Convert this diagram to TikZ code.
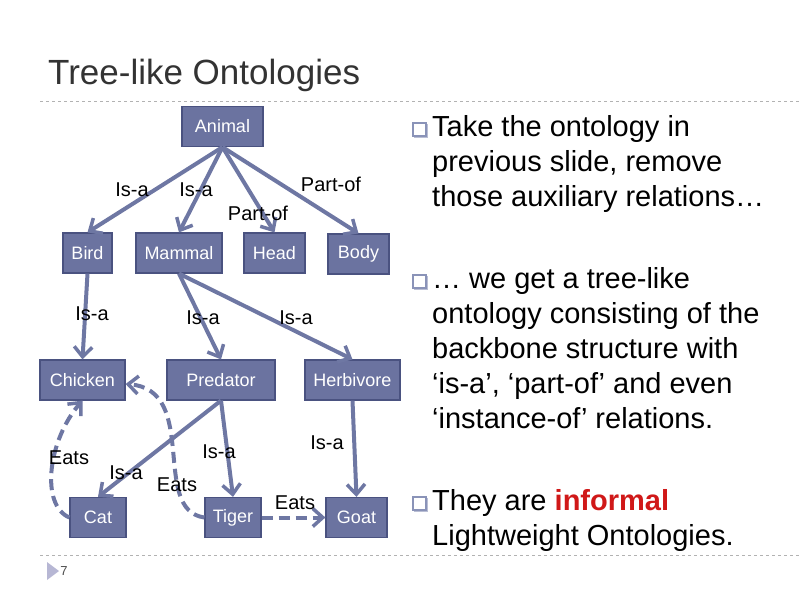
\documentclass[tikz,border=0pt]{standalone}
\usepackage{fontspec}
\setmainfont{Liberation Sans}
\usetikzlibrary{arrows.meta,calc}
\definecolor{nodefill}{HTML}{6B73A0}
\definecolor{nodeedge}{HTML}{4A5280}
\definecolor{edgecol}{HTML}{6E77A3}
\definecolor{bulletcol}{HTML}{8A93B8}
\definecolor{redtxt}{HTML}{D01818}
\tikzset{
  box/.style={draw=nodeedge,line width=1.2pt,fill=nodefill,text=white,font=\fontsize{18}{18}\selectfont,minimum height=40pt,inner sep=0pt},
  rel/.style={draw=edgecol,line width=4pt,-{Straight Barb[length=10pt,width=18pt,line width=3.5pt]}},
  eats/.style={rel,dash pattern=on 11pt off 6pt},
  lbl/.style={font=\fontsize{20}{20}\selectfont,inner sep=0pt},
  txt/.style={font=\fontsize{29}{35}\selectfont,anchor=north west,align=left,inner sep=0pt},
  sep/.style={draw=gray!60,dashed,line width=0.8pt}
}
\newcommand{\qbul}[1]{\draw[bulletcol!60,line width=1pt,fill=bulletcol!40] ($#1+(1.5,1.5)$) rectangle ++(13,13);\draw[bulletcol,line width=1.2pt,fill=white] #1 rectangle ++(13,13);}
\begin{document}
\begin{tikzpicture}[x=1pt,y=-1pt]
\useasboundingbox (0,0) rectangle (800,600);
\node[anchor=west,font=\fontsize{35}{35}\selectfont,text=black!80,inner sep=0pt] (title) at (48,75) {Tree-like Ontologies};
\coordinate (s1) at (40,101); \coordinate (s2) at (800,101);
\draw[sep] (s1) -- (s2);
\coordinate (s3) at (40,555); \coordinate (s4) at (800,555);
\draw[sep] (s3) -- (s4);
\fill[blue!25!gray!45] (47,562) -- (59,571) -- (47,580) -- cycle;
\node[font=\fontsize{13}{13}\selectfont,text=black!70] (pg) at (64,571) {7};

\node[box,minimum width=81pt] (animal) at (222.5,126.5) {Animal};
\node[box,minimum width=49pt] (bird) at (87.5,253) {Bird};
\node[box,minimum width=86pt] (mammal) at (179,253) {Mammal};
\node[box,minimum width=61pt] (head) at (274.5,253) {Head};
\node[box,minimum width=61pt] (body) at (358.5,254) {Body};
\node[box,minimum width=85pt] (chicken) at (82.5,380) {Chicken};
\node[box,minimum width=108pt] (predator) at (221,380) {Predator};
\node[box,minimum width=95pt] (herbivore) at (352.5,380) {Herbivore};
\node[box,minimum width=56pt] (cat) at (98,517.5) {Cat};
\node[box,minimum width=56pt] (tiger) at (233,517.5) {Tiger};
\node[box,minimum width=61pt] (goat) at (356.5,517.5) {Goat};

\draw[rel] (animal.south) -- (bird.north);
\draw[rel] (animal.south) -- (mammal.north);
\draw[rel] (animal.south) -- (head.north);
\draw[rel] (animal.south) -- (body.north);
\draw[rel] (bird.south) -- (chicken.north);
\draw[rel] (mammal.south) -- (predator.north);
\draw[rel] (mammal.south) -- (herbivore.north);
\draw[rel] (predator.south) -- (cat.north);
\draw[rel] (predator.south) -- (tiger.north);
\draw[rel] (herbivore.south) -- (goat.north);
\draw[eats] (cat.west) .. controls (40,505) and (48,440) .. (chicken.south);
\draw[eats] (tiger.west) .. controls (150,510) and (200,390) .. ([yshift=-4pt]chicken.east);
\draw[eats] (tiger.east) -- (goat.west);

\node[lbl] (l1) at (132,190) {Is-a};
\node[lbl] (l2) at (196,190) {Is-a};
\node[lbl] (l3) at (258,213) {Part-of};
\node[lbl] (l4) at (331,184) {Part-of};
\node[lbl] (l5) at (92,314) {Is-a};
\node[lbl] (l6) at (203,318) {Is-a};
\node[lbl] (l7) at (296,318) {Is-a};
\node[lbl] (l8) at (219,452) {Is-a};
\node[lbl] (l9) at (327,443) {Is-a};
\node[lbl] (l10) at (126,473) {Is-a};
\node[lbl] (l11) at (69,458) {Eats};
\node[lbl] (l12) at (177,485) {Eats};
\node[lbl] (l13) at (295,503) {Eats};

\qbul{(413,123)}
\node[txt] (t1) at (432,115) {Take the ontology in\\previous slide, remove\\those auxiliary relations…};
\qbul{(413,275)}
\node[txt] (t2) at (432,267) {… we get a tree-like\\ontology consisting of the\\backbone structure with\\‘is-a’, ‘part-of’ and even\\‘instance-of’ relations.};
\qbul{(413,497)}
\node[txt] (t3) at (432,489) {They are \textcolor{redtxt}{\textbf{informal}}\\Lightweight Ontologies.};
\end{tikzpicture}
\end{document}
